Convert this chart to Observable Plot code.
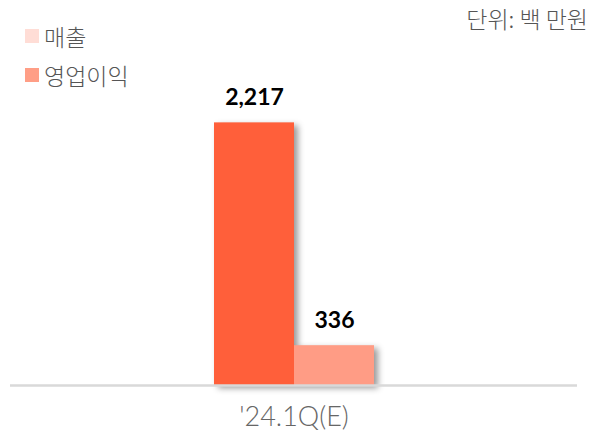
<!DOCTYPE html>
<html>
<head>
<meta charset="utf-8">
<script src="https://cdn.jsdelivr.net/npm/d3@7"></script>
<script src="https://cdn.jsdelivr.net/npm/@observablehq/plot@0.6"></script>
<style>
  body { margin: 0; background: #fff; }
  #wrap { position: relative; width: 608px; height: 436px; }
  .legend { position: absolute; left: 25px; top: 16px; font-family: "Noto Sans CJK KR", sans-serif; font-size: 23px; color: #555; font-weight: 300; }
  .legend div { display: flex; align-items: center; height: 39px; }
  .legend span.sw { display: inline-block; width: 14px; height: 14px; margin-right: 5px; }
  .unit { position: absolute; right: 20px; top: 0px; line-height: 36px; font-family: "Noto Sans CJK KR", sans-serif; font-size: 23px; color: #555; font-weight: 300; }
</style>
</head>
<body>
<div id="wrap"></div>
<script>
const periods = ["'24.1Q(E)"];
const series = ["매출", "영업이익"];
const values = [2217, 336];
const barColors = ["#FF5F3A", "#FF9C85"];
const legendColors = ["#FFDDD6", "#FF9E86"];
const unitLabel = "단위: 백 만원";

const data = series.map((s, i) => ({series: s, period: periods[0], value: values[i]}));

const chart = Plot.plot({
  width: 608,
  height: 436,
  marginTop: 77,
  marginBottom: 51,
  marginLeft: 10,
  marginRight: 31,
  x: {domain: series, range: [213, 374], padding: 0, axis: null},
  y: {domain: [0, 2600], axis: null},
  color: {domain: series, range: barColors},
  marks: [
    Plot.barY(data, {x: "series", y: "value", fill: "series"}),
    Plot.ruleY([0], {stroke: "#d9d9d9", strokeWidth: 2.5}),
    Plot.text(data, {x: "series", y: "value", text: d => d3.format(",")(d.value), dy: -25,
      fontSize: 23, fontWeight: "bold", fill: "#000", fontFamily: "Lato, sans-serif"}),
    Plot.text(periods, {text: d => d, frameAnchor: "bottom", dy: 40, fontSize: 27,
      fill: "#666", fontFamily: "Lato, sans-serif", fontWeight: 300})
  ]
});
chart.querySelectorAll('g[aria-label="bar"]').forEach(g => g.style.filter = "drop-shadow(4px 3px 3px rgba(0,0,0,0.4))");

const wrap = document.getElementById("wrap");
wrap.appendChild(chart);

const legend = document.createElement("div");
legend.className = "legend";
series.forEach((s, i) => {
  const row = document.createElement("div");
  const sw = document.createElement("span");
  sw.className = "sw";
  sw.style.background = legendColors[i];
  row.appendChild(sw);
  row.appendChild(document.createTextNode(s));
  legend.appendChild(row);
});
wrap.appendChild(legend);

const unit = document.createElement("div");
unit.className = "unit";
unit.textContent = unitLabel;
wrap.appendChild(unit);
</script>
</body>
</html>
